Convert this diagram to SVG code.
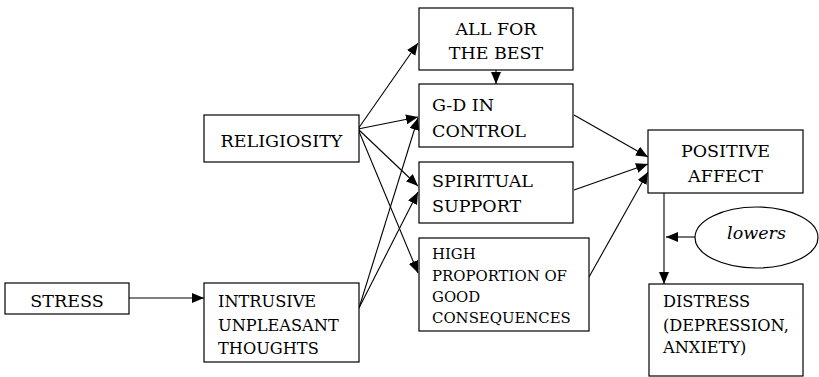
<svg xmlns="http://www.w3.org/2000/svg" width="819" height="377" viewBox="0 0 819 377">
<style>
rect,ellipse{fill:#fff;stroke:#000;stroke-width:1.2}
text{font-family:'DejaVu Serif','Liberation Serif',serif;font-size:17.5px;fill:#000}
.s18{font-size:16.2px}
.s17{font-size:14.9px}
.c{text-anchor:middle}
.it{font-style:italic}
#connectors line{stroke:#000;stroke-width:1.1;marker-end:url(#ah)}
</style>
<defs>
<marker id="ah" markerUnits="userSpaceOnUse" markerWidth="14" markerHeight="12" refX="12" refY="5" orient="auto">
<path d="M0,0 L12,5 L0,10 Z" fill="#000"/>
</marker>
</defs>
<rect width="819" height="377" fill="#fff" style="stroke:none"/>
<g id="connectors">
<line x1="129" y1="298" x2="204" y2="298"/>
<line x1="358" y1="129" x2="418" y2="43"/>
<line x1="358" y1="129" x2="418" y2="117"/>
<line x1="358" y1="129" x2="418" y2="186"/>
<line x1="358" y1="129" x2="418" y2="273"/>
<line x1="359" y1="308" x2="418" y2="118"/>
<line x1="359" y1="308" x2="418" y2="192"/>
<line x1="496" y1="70" x2="496" y2="84"/>
<line x1="574" y1="115" x2="648" y2="157"/>
<line x1="574" y1="190" x2="648" y2="164"/>
<line x1="589" y1="277" x2="648" y2="172"/>
<line x1="664" y1="193" x2="664" y2="284"/>
<line x1="695" y1="237" x2="666" y2="237"/>
</g>
<g id="stress"><rect x="5" y="283" width="124" height="31"/><text class="c" x="67" y="307">STRESS</text></g>
<g id="religiosity"><rect x="204" y="115" width="155" height="47"/><text class="c" x="281.5" y="147">RELIGIOSITY</text></g>
<g id="intrusive"><rect x="204" y="283" width="155" height="79"/><text class="s18" x="218" y="307">INTRUSIVE</text><text class="s18" x="218" y="331">UNPLEASANT</text><text class="s18" x="218" y="354">THOUGHTS</text></g>
<g id="allforthebest"><rect x="419" y="8" width="154" height="62"/><text class="c" x="496" y="35">ALL FOR</text><text class="c" x="496" y="59">THE BEST</text></g>
<g id="gdincontrol"><rect x="419" y="84" width="154" height="63"/><text x="432" y="111">G-D IN</text><text x="432" y="137">CONTROL</text></g>
<g id="spiritualsupport"><rect x="419" y="162" width="154" height="61"/><text x="432" y="187">SPIRITUAL</text><text x="432" y="212">SUPPORT</text></g>
<g id="highproportion"><rect x="419" y="238" width="170" height="93"/><text class="s17" x="432" y="259">HIGH</text><text class="s17" x="432" y="281">PROPORTION OF</text><text class="s17" x="432" y="302">GOOD</text><text class="s17" x="432" y="323">CONSEQUENCES</text></g>
<g id="positiveaffect"><rect x="648" y="130" width="155" height="63"/><text class="c" x="725.5" y="157">POSITIVE</text><text class="c" x="725.5" y="182">AFFECT</text></g>
<g id="lowers"><ellipse cx="756.5" cy="237.5" rx="61.5" ry="30.5"/><text class="c it" x="756.5" y="239">lowers</text></g>
<g id="distress"><rect x="649" y="284" width="154" height="92"/><text class="s18" x="663" y="307">DISTRESS</text><text class="s18" x="663" y="331">(DEPRESSION,</text><text class="s18" x="663" y="353">ANXIETY)</text></g>
</svg>
